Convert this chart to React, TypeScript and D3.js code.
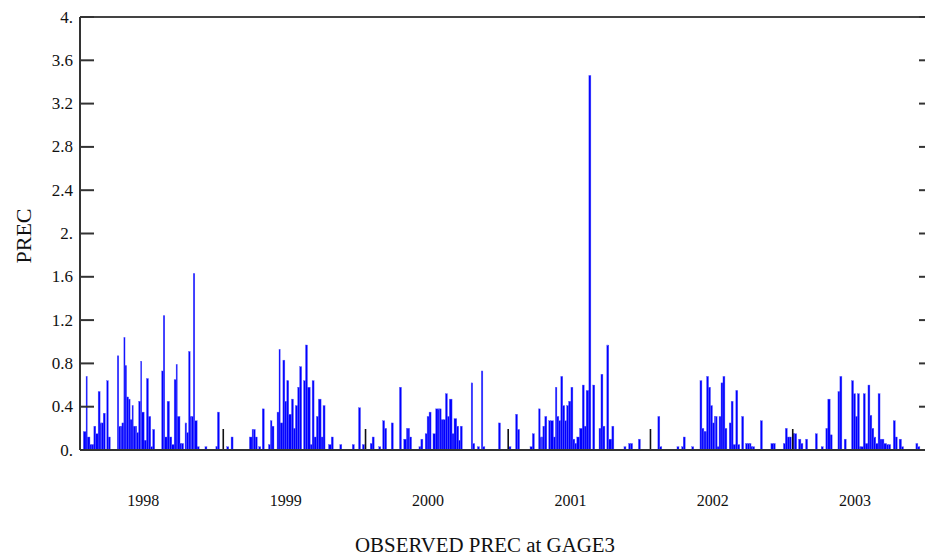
import React from "react";
import * as d3 from "d3";

// Daily observed precipitation at GAGE3, [day of year, value]
const prec1998: [number, number][] = [
  [6, 0.17], [13, 0.68], [16, 0.12], [23, 0.05], [28, 0.05], [33, 0.22], [38, 0.15], [44, 0.54],
  [49, 0.25], [53, 0.25], [57, 0.34], [66, 0.64], [70, 0.12], [93, 0.87], [97, 0.22], [101, 0.22],
  [105, 0.25], [110, 1.04], [113, 0.78], [117, 0.49], [122, 0.47], [126, 0.28], [131, 0.41], [134, 0.22],
  [139, 0.22], [143, 0.16], [148, 0.45], [153, 0.82], [156, 0.35], [162, 0.09], [168, 0.66], [173, 0.31],
  [179, 0.03], [184, 0.19], [207, 0.73], [211, 1.24], [215, 0.12], [221, 0.45], [227, 0.12], [233, 0.05],
  [239, 0.65], [244, 0.79], [247, 0.31], [254, 0.06], [258, 0.06], [267, 0.25], [271, 0.16], [276, 0.91],
  [280, 0.31], [284, 0.31], [288, 1.63], [292, 0.27], [298, 0.03], [318, 0.03], [346, 0.03], [350, 0.35],
];
const prec1999: [number, number][] = [
  [9, 0.03], [20, 0.12], [67, 0.12], [74, 0.19], [78, 0.19], [82, 0.12], [91, 0.03], [100, 0.38],
  [116, 0.05], [121, 0.27], [125, 0.22], [138, 0.35], [143, 0.93], [146, 0.25], [153, 0.83], [158, 0.45],
  [163, 0.64], [168, 0.33], [175, 0.47], [180, 0.2], [185, 0.41], [191, 0.58], [196, 0.77], [206, 0.64],
  [211, 0.97], [216, 0.58], [223, 0.05], [228, 0.64], [233, 0.12], [239, 0.31], [244, 0.47], [251, 0.12],
  [256, 0.41], [270, 0.05], [277, 0.12], [299, 0.05], [331, 0.05], [347, 0.39], [357, 0.05],
];
const prec2000: [number, number][] = [
  [12, 0.06], [17, 0.12], [34, 0.03], [44, 0.27], [49, 0.2], [66, 0.25], [87, 0.58], [98, 0.1],
  [105, 0.2], [109, 0.2], [113, 0.12], [137, 0.03], [142, 0.1], [153, 0.15], [158, 0.31], [163, 0.35],
  [173, 0.15], [180, 0.38], [186, 0.38], [190, 0.38], [194, 0.28], [199, 0.28], [205, 0.52], [210, 0.31],
  [215, 0.47], [222, 0.15], [227, 0.29], [234, 0.22], [239, 0.09], [243, 0.22], [271, 0.62], [275, 0.06],
  [287, 0.03], [297, 0.73], [301, 0.03], [341, 0.25],
];
const prec2001: [number, number][] = [
  [2, 0.03], [19, 0.33], [24, 0.19], [56, 0.03], [62, 0.15], [78, 0.38], [82, 0.12], [86, 0.12],
  [89, 0.22], [94, 0.31], [104, 0.27], [108, 0.27], [116, 0.12], [121, 0.58], [125, 0.31], [130, 0.27],
  [135, 0.68], [140, 0.41], [145, 0.27], [150, 0.41], [155, 0.45], [161, 0.58], [166, 0.1], [171, 0.06],
  [176, 0.12], [183, 0.2], [190, 0.6], [195, 0.22], [200, 0.55], [207, 3.46], [217, 0.6], [233, 0.2],
  [238, 0.7], [243, 0.22], [253, 0.97], [258, 0.1], [266, 0.22], [297, 0.03], [309, 0.06], [314, 0.06],
  [334, 0.1],
];
const prec2002: [number, number][] = [
  [19, 0.31], [24, 0.03], [68, 0.03], [80, 0.03], [84, 0.12], [106, 0.03], [127, 0.64], [132, 0.2],
  [137, 0.17], [140, 0.17], [144, 0.68], [149, 0.58], [154, 0.41], [159, 0.25], [164, 0.31], [167, 0.31],
  [171, 0.03], [176, 0.31], [181, 0.62], [186, 0.68], [191, 0.2], [202, 0.25], [207, 0.45], [212, 0.05],
  [219, 0.55], [224, 0.05], [234, 0.31], [244, 0.06], [249, 0.06], [254, 0.06], [258, 0.03], [262, 0.03],
  [282, 0.27], [309, 0.06], [315, 0.06], [341, 0.06], [346, 0.2], [351, 0.12], [356, 0.12],
];
const prec2003: [number, number][] = [
  [1, 0.15], [5, 0.15], [15, 0.1], [21, 0.06], [33, 0.1], [58, 0.15], [73, 0.03], [85, 0.2],
  [90, 0.47], [96, 0.14], [116, 0.54], [121, 0.68], [132, 0.1], [151, 0.64], [156, 0.52], [161, 0.31],
  [166, 0.52], [171, 0.03], [175, 0.03], [181, 0.52], [186, 0.06], [193, 0.6], [198, 0.32], [203, 0.2],
  [208, 0.12], [213, 0.06], [219, 0.52], [224, 0.1], [229, 0.1], [234, 0.06], [241, 0.05], [246, 0.05],
  [258, 0.27], [263, 0.12], [273, 0.1], [279, 0.03], [316, 0.06], [321, 0.03],
];

const years = [1998, 1999, 2000, 2001, 2002, 2003];
const yearSeries = [prec1998, prec1999, prec2000, prec2001, prec2002, prec2003];
const yTicks = [0, 0.4, 0.8, 1.2, 1.6, 2, 2.4, 2.8, 3.2, 3.6, 4];
const yLabel = "PREC";
const xTitle = "OBSERVED PREC at GAGE3";

const W = 925;
const H = 556;
const left = 80;
const right = 932;
const top = 17;
const bottom = 450;

export default function App() {
  const x = d3
    .scaleUtc()
    .domain([new Date(Date.UTC(1998, 0, 1)), new Date(Date.UTC(2004, 0, 1))])
    .range([81, 935]);
  const y = d3.scaleLinear().domain([0, 4]).range([bottom, top]);

  const points: { date: Date; v: number }[] = [];
  years.forEach((yr, i) => {
    yearSeries[i].forEach(([doy, v]) => {
      points.push({ date: d3.utcDay.offset(new Date(Date.UTC(yr, 0, 1)), doy), v });
    });
  });
  points.sort((a, b) => +a.date - +b.date);

  const bars = points.map((p, i) => {
    const x0 = x(p.date);
    const next = points[i + 1];
    let w = 2;
    if (next) {
      const gapDays = (+next.date - +p.date) / 86400000;
      if (gapDays <= 8) w = x(next.date) - x0;
    }
    return { x0, w, y0: y(p.v) };
  });

  const fmt = (v: number) => (Number.isInteger(v) ? `${v}.` : v.toFixed(1));
  const font = "'Liberation Serif', 'Times New Roman', serif";

  return (
    <svg
      width={W}
      height={H}
      style={{ position: "absolute", left: 0, top: 0, background: "#fff" }}
    >
      <rect x={0} y={0} width={W} height={H} fill="#fff" />
      <g>
        {bars.map((b, i) => (
          <rect
            key={i}
            x={b.x0}
            y={b.y0}
            width={b.w}
            height={bottom - b.y0}
            fill="#0000ff"
            stroke="#5a5aff"
            strokeWidth={0.4}
          />
        ))}
      </g>
      {years.slice(1).map((yr) => {
        const xx = x(new Date(Date.UTC(yr, 0, 1)));
        return <line key={yr} x1={xx} x2={xx} y1={bottom} y2={bottom - 21} stroke="#111" strokeWidth={1.6} />;
      })}
      <line x1={left} x2={right} y1={top} y2={top} stroke="#444" strokeWidth={2} />
      <line x1={left} x2={right} y1={bottom} y2={bottom} stroke="#333" strokeWidth={2} />
      <line x1={left} x2={left} y1={top} y2={bottom} stroke="#333" strokeWidth={2} />
      <line x1={right} x2={right} y1={top} y2={bottom} stroke="#333" strokeWidth={2} />
      {yTicks.map((t) => (
        <g key={t}>
          <line x1={left} x2={left + 14} y1={y(t)} y2={y(t)} stroke="#333" strokeWidth={2} />
          <line x1={right - 13} x2={right} y1={y(t)} y2={y(t)} stroke="#333" strokeWidth={2} />
          <text
            x={73}
            y={y(t)}
            textAnchor="end"
            dominantBaseline="central"
            fontFamily={font}
            fontSize={17}
            fill="#111"
          >
            {fmt(t)}
          </text>
        </g>
      ))}
      {years.map((yr) => {
        const xx = x(d3.utcDay.offset(new Date(Date.UTC(yr, 0, 1)), 160));
        return (
          <text
            key={yr}
            x={xx}
            y={500}
            textAnchor="middle"
            dominantBaseline="central"
            fontFamily={font}
            fontSize={16}
            fill="#111"
          >
            {yr}
          </text>
        );
      })}
      <text
        transform={`translate(23, 236) rotate(-90)`}
        textAnchor="middle"
        dominantBaseline="central"
        fontFamily={font}
        fontSize={22}
        fill="#111"
      >
        {yLabel}
      </text>
      <text
        x={485}
        y={545}
        textAnchor="middle"
        dominantBaseline="central"
        fontFamily={font}
        fontSize={20}
        textLength={260}
        lengthAdjust="spacingAndGlyphs"
        fill="#111"
      >
        {xTitle}
      </text>
    </svg>
  );
}
